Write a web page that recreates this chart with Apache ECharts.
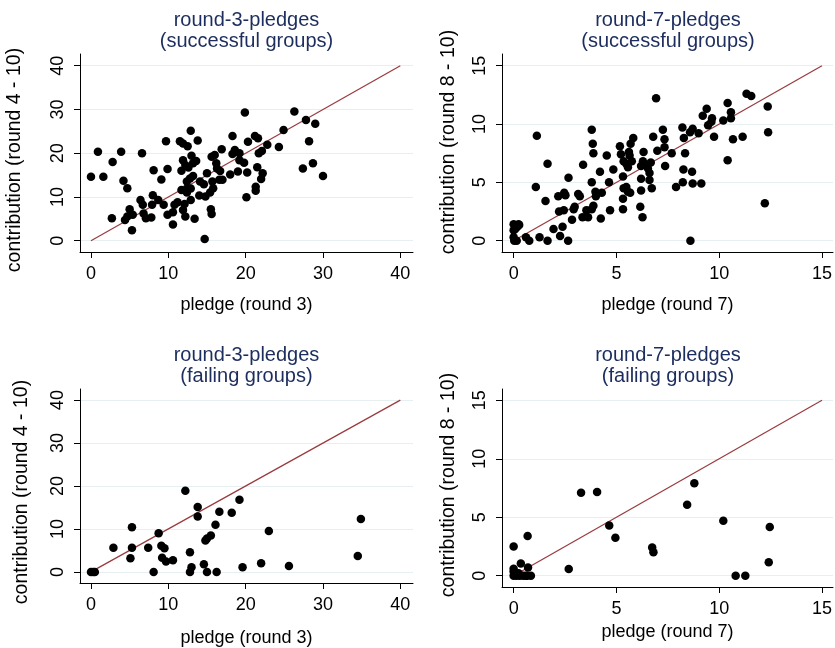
<!DOCTYPE html>
<html>
<head>
<meta charset="utf-8">
<script src="https://cdn.jsdelivr.net/npm/echarts@6/dist/echarts.min.js"></script>
<style>html,body{margin:0;padding:0;background:#fff}#c{width:835px;height:648px}</style>
</head>
<body>
<div id="c"></div>
<script>
// Panel 1: round-3 pledges, successful groups
const r3SuccPledge = [0,0.9,1.6,2.8,2.7,3.9,4.2,4.7,4.4,5.0, 4.7,5.3,5.4,6.6,6.4,6.7,6.8,7.1,7.8,8.1, 8.0,7.9,8.7,9.1,9.4,9.7,9.9,9.9,10.6,10.6, 10.8,11.2,11.5,11.9,12.5,12.9,13.8,11.9,11.7,12.2, 12.6,13.0,13.2,13.6,12.4,12.8,13.2,12.4,11.7,12.9, 12.4,12.1,11.9,12.2,12.9,13.4,14.0,14.1,14.6,14.7, 14.8,15.0,15.5,15.6,15.4,15.8,15.7,15.6,16.0,16.2, 16.3,16.6,16.7,16.9,17.0,18.0,18.3,18.3,18.6,19.0, 19.2,19.2,19.8,19.9,20.2,20.3,20.1,21.2,21.6,21.5, 21.3,21.3,21.7,22.1,22.0,22.2,22.8,24.3,24.9,26.3, 27.4,27.8,28.2,28.7,29.0,30.0];
const r3SuccContrib = [14.6,20.3,14.6,18.0,5.1,20.3,13.7,12.0,4.7,7.2, 5.5,2.4,5.9,20.0,9.3,8.2,6.2,5.1,5.3,16.1, 10.4,8.2,9.3,14.0,8.2,22.7,16.4,5.9,3.7,6.5, 8.2,8.8,22.7,22.2,21.6,25.1,22.9,18.4,16.0,17.3, 16.7,19.4,17.7,18.2,13.5,14.2,14.8,11.9,11.6,11.9, 11.0,8.4,7.0,5.5,9.3,5.0,10.3,13.5,12.9,0.4, 10.1,15.4,7.2,6.1,11.0,12.0,13.5,19.2,19.6,17.7, 16.5,13.9,15.9,20.9,13.9,15.1,23.9,19.8,20.7,15.8, 20.0,18.4,17.8,29.3,15.6,22.6,9.9,23.9,23.4,16.8, 12.3,11.4,20.0,20.5,14.1,15.4,21.9,21.4,25.3,29.5, 16.5,27.6,22.7,17.7,26.7,14.8];

// Panel 2: round-7 pledges, successful groups
const r7SuccPledge = [0,0,0,0.03,0.15,0.24,0.18,0.08,0.27,0.6, 0.76,1.13,1.08,1.26,1.55,1.65,1.65,1.94,2.17,2.21, 2.26,2.38,2.46,2.52,2.44,2.67,2.65,2.84,2.92,2.97, 3.14,3.22,3.38,3.35,3.54,3.62,3.8,3.85,3.88,3.8, 3.8,3.88,3.98,4.0,4.2,4.29,4.24,4.53,4.64,4.69, 4.85,5.17,5.22,5.35,5.32,5.35,5.32,5.32,5.48,5.56, 5.61,5.69,5.82,5.64,5.48,5.56,5.67,5.75,6.16,6.27, 6.2,6.2,6.32,6.29,6.42,6.2,6.53,6.61,6.67,6.61, 6.72,6.79,6.93,6.99,7.26,7.34,7.34,7.37,7.69,7.9, 8.21,8.28,8.34,8.26,8.23,8.58,8.71,8.68,8.71,8.6, 9.0,9.13,9.2,9.39,9.46,9.62,9.65,9.75,10.2,10.41, 10.41,10.57,10.57,10.67,11.14,11.33,11.56,12.22,12.36,12.38];
const r7SuccContrib = [1.4,0.9,0.3,0,0,1.4,1.2,1.0,1.35,0.3, 0,9.0,4.6,0.3,3.4,6.6,0,1.0,3.8,2.5, 0.4,1.2,4.1,3.9,2.6,5.4,0,1.8,2.7,2.9, 4.0,3.8,6.5,2.0,2.6,2.0,9.5,8.3,7.5,5.0, 2.7,3.0,4.2,3.8,5.9,4.1,1.9,7.3,5.0,2.6, 6.1,8.1,7.4,6.8,5.5,4.5,3.6,2.7,6.6,6.3, 7.6,8.3,8.8,7.3,4.6,4.2,4.1,6.8,2.9,2.0, 4.3,5.3,7.6,6.8,6.5,6.4,6.2,5.8,6.7,5.2, 4.5,8.9,12.2,7.7,9.5,8.7,8.0,6.4,7.5,4.6, 9.7,8.8,7.5,6.1,5.0,9.3,9.6,5.9,4.9,0, 9.2,4.9,10.7,11.3,9.9,10.2,10.5,8.9,10.3,11.8, 6.9,11.0,10.5,8.7,8.9,12.6,12.4,3.2,11.5,9.3];

// Panel 3: round-3 pledges, failing groups
const r3FailPledge = [0,0.3,0.5,2.9,5.1,5.3,5.3,7.4,8.1,8.75, 9.1,9.2,9.5,9.7,10.6,12.2,12.8,12.8,13.0,13.8, 13.8,14.6,14.8,15.0,15.5,15.0,16.1,16.25,16.6,18.2, 19.2,19.6,22.0,23.0,25.6,34.5,34.9];
const r3FailContrib = [0,0,0,5.6,3.2,10.4,5.6,5.6,0,9.0, 6.1,3.3,5.5,2.4,2.7,18.9,4.6,0,1.1,15.1, 12.9,1.8,7.3,7.8,8.5,0,11.0,0,14.0,13.8, 16.8,1.1,2.0,9.5,1.4,3.7,12.3];

// Panel 4: round-7 pledges, failing groups
const r7FailPledge = [0,0,0,0,0.15,0.3,0.35,0.47,0.6,0.7, 0.84,0.66,0.24,0.68,2.68,3.28,4.06,4.65,4.95,6.74, 6.8,8.44,8.79,10.2,10.8,11.27,12.41,12.46];
const r7FailContrib = [2.5,0.6,0.35,0,0,0,1.05,0,0,0.7, 0,0,0.2,3.4,0.57,7.1,7.15,4.3,3.25,2.4, 2.0,6.07,7.9,4.7,0,0,1.14,4.16];

// Tick labels
const ticksRound3 = [0,10,20,30,40];
const ticksRound7 = [0,5,10,15];

// Titles and axis names
const panelTitles = ['round-3-pledges\n(successful groups)','round-7-pledges\n(successful groups)','round-3-pledges\n(failing groups)','round-7-pledges\n(failing groups)'];
const xNames = ['pledge (round 3)','pledge (round 7)','pledge (round 3)','pledge (round 7)'];
const yNames = ['contribution (round 4 - 10)','contribution (round 8 - 10)','contribution (round 4 - 10)','contribution (round 8 - 10)'];

const zip = (a, b) => a.map((v, i) => [v, b[i]]);
const panelData = [zip(r3SuccPledge, r3SuccContrib), zip(r7SuccPledge, r7SuccContrib), zip(r3FailPledge, r3FailContrib), zip(r7FailPledge, r7FailContrib)];
const panelTicks = [ticksRound3, ticksRound7, ticksRound3, ticksRound7];

const FONT = '"Liberation Sans", Arial, sans-serif';
const layout = [
  {left: 80, top: 54, width: 333, height: 198, titleX: 246.5, titleY: 9.5, xGap: 44, yGap: 55, yPad: [0, 14, 0, 0]},
  {left: 502, top: 54, width: 332, height: 198, titleX: 668, titleY: 9.5, xGap: 44, yGap: 43, yPad: [0, 0, 0, 22]},
  {left: 80, top: 389, width: 333, height: 198, titleX: 246.5, titleY: 344.5, xGap: 46, yGap: 48, yPad: [0, 12, 0, 0]},
  {left: 502, top: 389, width: 332, height: 198, titleX: 668, titleY: 344.5, xGap: 36, yGap: 43, yPad: [0, 0, 0, 6]}
];
const ranges = [
  {x: [-1.42, 41.64], y: [-2.59, 42.67]},
  {x: [-0.566, 15.535], y: [-0.971, 16.0]},
  {x: [-1.42, 41.64], y: [-2.585, 42.59]},
  {x: [-0.566, 15.535], y: [-0.969, 15.97]}
];

const grid = [], xAxis = [], yAxis = [], series = [], title = [];
layout.forEach((L, i) => {
  const ticks = panelTicks[i];
  const maxT = ticks[ticks.length - 1];
  grid.push({left: L.left, top: L.top, width: L.width, height: L.height, containLabel: false});
  title.push({
    text: panelTitles[i], left: L.titleX, top: L.titleY, textAlign: 'center', padding: 0,
    textStyle: {fontFamily: FONT, fontSize: 20, fontWeight: 'normal', color: '#1c2d5e', lineHeight: 21}
  });
  xAxis.push({
    type: 'value', gridIndex: i, min: ranges[i].x[0], max: ranges[i].x[1],
    name: xNames[i], nameLocation: 'middle', nameGap: L.xGap,
    nameTextStyle: {fontFamily: FONT, fontSize: 18, color: '#000'},
    axisLine: {show: true, onZero: false, lineStyle: {color: '#000', width: 1}},
    axisTick: {show: true, length: 6, customValues: ticks, lineStyle: {color: '#000'}},
    axisLabel: {customValues: ticks, fontFamily: FONT, fontSize: 18, color: '#000', margin: 13},
    splitLine: {show: false}
  });
  yAxis.push({
    type: 'value', gridIndex: i, min: ranges[i].y[0], max: ranges[i].y[1],
    name: yNames[i], nameLocation: 'middle', nameGap: L.yGap, nameRotate: 90,
    nameTextStyle: {fontFamily: FONT, fontSize: 19.5, color: '#000', padding: L.yPad},
    axisLine: {show: true, onZero: false, lineStyle: {color: '#000', width: 1}},
    axisTick: {show: true, length: 6, customValues: ticks, lineStyle: {color: '#000'}},
    axisLabel: {customValues: ticks, rotate: 90, fontFamily: FONT, fontSize: 18, color: '#000', margin: 13},
    splitLine: {show: true, lineStyle: {color: '#e6eff1', width: 1}}
  });
  series.push({
    type: 'line', xAxisIndex: i, yAxisIndex: i, data: [[0, 0], [maxT, maxT]],
    showSymbol: false, symbol: 'none', silent: true, z: 3,
    lineStyle: {color: '#993a3e', width: 1.2}
  });
  series.push({
    type: 'scatter', xAxisIndex: i, yAxisIndex: i, data: panelData[i],
    symbol: 'circle', symbolSize: 8.5, itemStyle: {color: '#000', opacity: 1}, z: 4
  });
});

const chart = echarts.init(document.getElementById('c'), null, {renderer: 'canvas'});
chart.setOption({animation: false, backgroundColor: '#fff', title, grid, xAxis, yAxis, series});
</script>
</body>
</html>
